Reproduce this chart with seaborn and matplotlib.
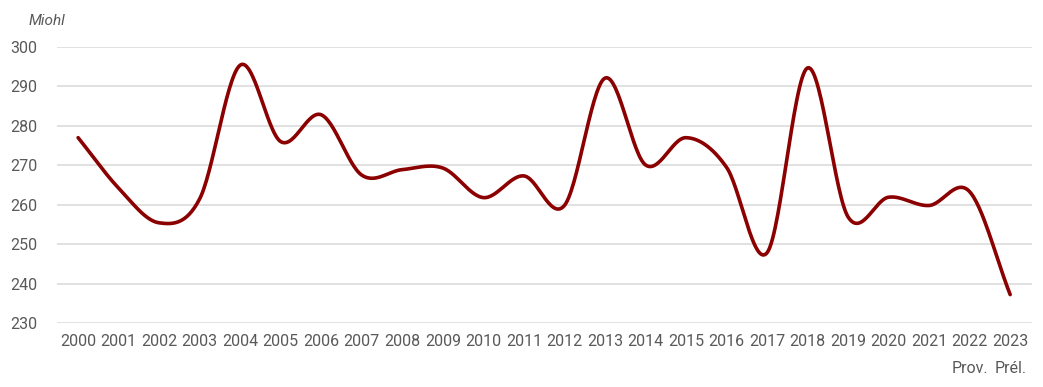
import numpy as np
import pandas as pd
import matplotlib
matplotlib.use("Agg")
import matplotlib.pyplot as plt
import seaborn as sns
from matplotlib import font_manager

years = ["2000", "2001", "2002", "2003", "2004", "2005", "2006", "2007", "2008", "2009",
         "2010", "2011", "2012", "2013", "2014", "2015", "2016", "2017", "2018", "2019",
         "2020", "2021", "2022\nProv.", "2023\nPrél."]
values = [277.0, 264.2, 255.4, 261.5, 295.4, 276.0, 282.8, 267.5, 268.9, 269.3,
          261.8, 267.3, 259.8, 292.1, 270.1, 277.0, 269.5, 247.8, 294.7, 256.9,
          261.9, 259.8, 263.3, 237.2]
y_ticks = [230, 240, 250, 260, 270, 280, 290, 300]
unit_label = "Miohl"

sns.set_theme(style="white")
names = {f.name for f in font_manager.fontManager.ttflist}
fam = "Liberation Sans Narrow" if "Liberation Sans Narrow" in names else "Roboto"
plt.rcParams["font.family"] = [fam, "DejaVu Sans"]

# Smoothed line (Catmull-Rom style, as in spreadsheet "smoothed line")
x = np.arange(len(values), dtype=float)
y = np.array(values)
px = np.concatenate([[2 * x[0] - x[1]], x, [2 * x[-1] - x[-2]]])
py = np.concatenate([[2 * y[0] - y[1]], y, [2 * y[-1] - y[-2]]])
xs, ys = [], []
for i in range(1, len(px) - 2):
    t = np.linspace(0, 1, 30, endpoint=False)
    p0, p1, p2, p3 = py[i - 1], py[i], py[i + 1], py[i + 2]
    seg = 0.5 * ((2 * p1) + (-p0 + p2) * t + (2 * p0 - 5 * p1 + 4 * p2 - p3) * t ** 2
                 + (-p0 + 3 * p1 - 3 * p2 + p3) * t ** 3)
    xs.append(px[i] + t)
    ys.append(seg)
xs.append([x[-1]])
ys.append([y[-1]])
df = pd.DataFrame({"x": np.concatenate(xs), "y": np.concatenate(ys)})

fig = plt.figure(figsize=(10.43, 3.87), dpi=100)
ax = fig.add_axes([0.0547, 0.1654, 0.9348, 0.7132])
ax.set_ylim(230, 300)
ax.set_xlim(-0.52, 23.54)
ax.set_yticks(y_ticks)
ax.yaxis.grid(True, color="#d9d9d9", linewidth=1.1)
ax.set_axisbelow(True)
sns.lineplot(data=df, x="x", y="y", ax=ax, color="#8b0000", linewidth=2.6,
             solid_capstyle="round", sort=False)
ax.set_xticks(x)
ax.set_xticklabels(years, linespacing=2.0, va="top", multialignment="center")
for s in ax.spines.values():
    s.set_visible(False)
ax.tick_params(axis="both", length=0, labelsize=11.5, labelcolor="#595959")
ax.tick_params(axis="x", pad=8)
ax.tick_params(axis="y", pad=14)
ax.set_xlabel("")
ax.set_ylabel("")
fig.text(0.027, 0.945, unit_label, fontsize=11, style="italic", color="#595959",
         ha="left", va="center")
fig.savefig("out.png", dpi=100)
